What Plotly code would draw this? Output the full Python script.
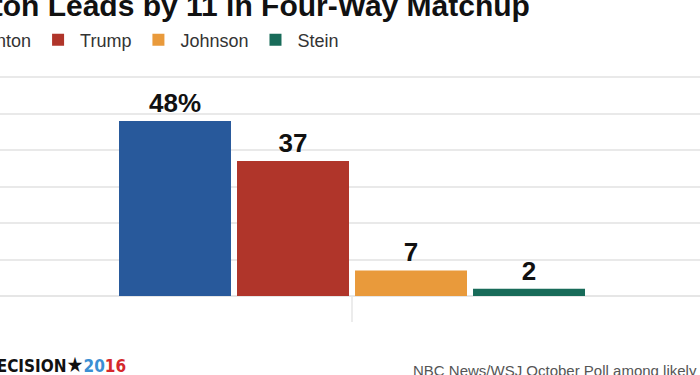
import plotly.graph_objects as go

candidates = ["Clinton", "Trump", "Johnson", "Stein"]
shares = [48, 37, 7, 2]
colors = ["#28599b", "#b0352a", "#e99a3b", "#186b59"]
title_text = "Clinton Leads by 11 in Four-Way Matchup"
source_text = "NBC News/WSJ October Poll among likely voters"

W, H = 700, 375
ml, mr, mt, mb = 0, 0, 59, 79

fig = go.Figure()
for i, (c, v, col) in enumerate(zip(candidates, shares, colors)):
    label = f"{v}%" if i == 0 else f"{v}"
    fig.add_trace(go.Bar(
        x=[c], y=[v], name=c, marker=dict(color=col, line=dict(width=0)),
        text=[label], textposition="outside", cliponaxis=False,
        textfont=dict(family="Liberation Sans", size=26, color="#111111", weight="bold"),
        hoverinfo="skip",
    ))

fig.update_layout(
    width=W, height=H,
    margin=dict(l=ml, r=mr, t=mt, b=mb, pad=0, autoexpand=False),
    paper_bgcolor="white", plot_bgcolor="white",
    barmode="overlay", bargap=0.051,
    showlegend=True,
    legend=dict(
        orientation="h", x=-0.0985, xanchor="left", y=1.08, yanchor="middle",
        font=dict(family="Liberation Sans", size=18, color="#333333"),
        bgcolor="rgba(0,0,0,0)", itemclick=False, itemdoubleclick=False,
        traceorder="normal", itemwidth=34,
    ),
    xaxis=dict(
        type="category", categoryorder="array", categoryarray=candidates,
        range=[-1.483, 4.449], showticklabels=False, showgrid=False,
        zeroline=False, showline=False, ticks="", fixedrange=True,
    ),
    yaxis=dict(
        range=[0, 65], tick0=0, dtick=10, showticklabels=False,
        showgrid=True, gridcolor="#e9e9e9", gridwidth=1.5,
        zeroline=True, zerolinecolor="#e6e6e6", zerolinewidth=1.5,
        showline=False, ticks="", fixedrange=True,
    ),
    font=dict(family="Liberation Sans"),
)

# small vertical divider below the baseline
fig.add_shape(type="line", xref="x", yref="paper", x0=1.5, x1=1.5, y0=0, y1=-0.11,
              line=dict(color="#e6e6e6", width=1.5))

fig.add_annotation(
    text=f"<b>{title_text}</b>", xref="paper", yref="paper",
    x=532 / W, xanchor="right", y=1.2257, yanchor="middle", showarrow=False,
    font=dict(family="Liberation Sans", size=30, color="#111111"),
)
fig.add_annotation(
    text="<b>DECISION</b><span style='font-size:21px'>★</span><b><span style='color:#3b8fd3'>20</span><span style='color:#d5282c'>16</span></b>",
    xref="paper", yref="paper", x=128 / W, xanchor="right", y=-0.293, yanchor="middle",
    showarrow=False, font=dict(family="DejaVu Sans Condensed, Liberation Sans", size=17, color="#111111"),
)
fig.add_annotation(
    text=source_text, xref="paper", yref="paper", x=411 / W, xanchor="left",
    y=-0.315, yanchor="middle", showarrow=False,
    font=dict(family="Liberation Sans", size=15, color="#555555"),
)

fig.write_html("out.html", config={"displayModeBar": False},
               post_script="document.body.style.margin='0';")
